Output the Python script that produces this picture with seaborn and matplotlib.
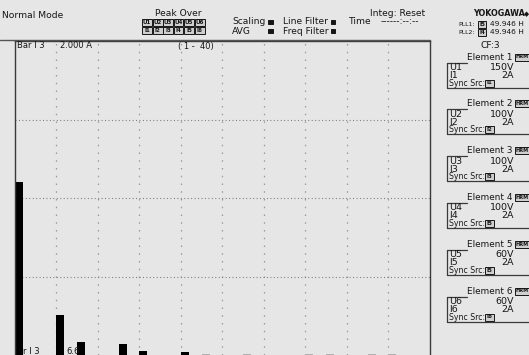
import matplotlib
matplotlib.use("Agg")
import matplotlib.pyplot as plt
import seaborn as sns
import pandas as pd
from matplotlib.patches import Rectangle
from matplotlib.lines import Line2D

# ---------------- data ----------------
orders = list(range(1, 41))
current_A = [1.104, 0, 0, 0, 0.255, 0, 0.085, 0, 0, 0,
             0.070, 0, 0.027, 0, 0, 0, 0.019, 0, 0.008, 0,
             0, 0, 0.008, 0, 0, 0, 0, 0, 0.008, 0,
             0.008, 0, 0, 0, 0.008, 0, 0.008, 0, 0, 0]
small_orders = [19, 23, 29, 31, 35, 37]
full_scale = 2.0
elements = ["Element 1", "Element 2", "Element 3", "Element 4", "Element 5", "Element 6"]
u_names = ["U1", "U2", "U3", "U4", "U5", "U6"]
u_ranges = ["150V", "100V", "100V", "100V", "60V", "60V"]
i_names = ["I1", "I2", "I3", "I4", "I5", "I6"]
i_ranges = ["2A", "2A", "2A", "2A", "2A", "2A"]
sync_src = ["I1", "I2", "I3", "I5", "I5", "I6"]
peak_u = ["U1", "U2", "U3", "U4", "U5", "U6"]
peak_i = ["I1", "I2", "I3", "I4", "I5", "I6"]

df = pd.DataFrame({"order": orders, "current": current_A,
                   "kind": ["small" if o in small_orders else "main" for o in orders]})

W, H = 529, 355
BG = "#e6e6e6"
INK = "#161616"
sns.set_theme(style="white")
plt.rcParams["font.family"] = ["DejaVu Sans"]

fig = plt.figure(figsize=(W / 100, H / 100), dpi=100, facecolor=BG)


def fx(x):
    return x / W


def fy(y):
    return 1 - y / H


def T(x, y, s, size=6.8, ha="left", va="center", weight="normal", color=INK, **kw):
    fig.text(fx(x), fy(y), s, fontsize=size, ha=ha, va=va, weight=weight, color=color, **kw)


def L(x0, y0, x1, y1, lw=1.0, color="#3a3a3a"):
    fig.add_artist(Line2D([fx(x0), fx(x1)], [fy(y0), fy(y1)], lw=lw, color=color,
                          transform=fig.transFigure))


def box(x0, y0, x1, y1, fc="none", ec=INK, lw=0.7):
    fig.add_artist(Rectangle((fx(x0), fy(y1)), fx(x1) - fx(x0), fy(y0) - fy(y1),
                             transform=fig.transFigure, fc=fc, ec=ec, lw=lw))


def tag(xc, y, s, w=10, h=7, size=4.0):
    box(xc - w / 2, y - h / 2, xc + w / 2, y + h / 2, fc="#cfcfcf", ec=INK, lw=0.7)
    T(xc, y, s, size=size, ha="center", weight="bold")


# ---------------- plot area ----------------
x_left, x_right, y_top, y_bot = 14.7, 430, 41, 355
ax = fig.add_axes([fx(x_left), fy(y_bot), fx(x_right) - fx(x_left), fy(y_top) - fy(y_bot)])
ax.set_facecolor(BG)
sns.barplot(data=df, x="order", y="current", hue="kind", dodge=False,
            palette={"main": "#000000", "small": "#b0b0b0"}, width=0.77,
            linewidth=0, legend=False, ax=ax)
ax.set_xlim(-0.385, 39.615)
ax.set_ylim(0, full_scale)
ax.set_xlabel("")
ax.set_ylabel("")
ax.set_xticks([])
ax.set_yticks([])
for k in range(1, 10):
    ax.axvline(4 * k - 0.385, color="#9a9a9a", lw=0.9, linestyle=(0, (1.2, 5.0)), zorder=0)
for v in [0.5, 1.0, 1.5]:
    ax.axhline(v, color="#7a7a7a", lw=0.8, linestyle=(0, (0.9, 2.2)), zorder=0)
for s in ax.spines.values():
    s.set_visible(False)
for s in ["left", "top", "right"]:
    ax.spines[s].set_visible(True)
    ax.spines[s].set_color("#3a3a3a")
    ax.spines[s].set_linewidth(1.0)

T(17, 46, "Bar I 3", size=6.0)
T(60, 46, "2.000 A", size=6.0)
T(178, 46, "( 1 -  40)", size=6.0)
T(23, 351, "r I 3", size=6.0)
T(66, 351, "6.6", size=6.0)

# ---------------- header ----------------
L(0, 40, 430, 40, lw=1.0, color="#555555")
T(2, 15, "Normal Mode", size=6.6)
T(178, 13, "Peak Over", size=6.6, ha="center")
for j, (u, i) in enumerate(zip(peak_u, peak_i)):
    xc = 147 + j * 10.5
    tag(xc, 22.5, u, w=10)
    tag(xc, 30.5, i, w=10)
T(232, 22, "Scaling", size=6.6)
T(232, 31, "AVG", size=6.6)
box(268, 20, 273, 24, fc=INK)
box(268, 29, 273, 33, fc=INK)
T(283, 22, "Line Filter", size=6.6)
T(283, 31, "Freq Filter", size=6.6)
box(331, 20, 335, 24, fc=INK)
box(331, 29, 335, 33, fc=INK)
T(349, 22, "Time", size=6.6)
T(370, 13.5, "Integ: Reset", size=6.6)
T(381, 21.5, "------:--:--", size=6.6)
T(473, 14, "YOKOGAWA", size=5.8, weight="bold")
T(523.5, 14, "◆", size=4.8)
T(458.5, 24.5, "PLL1:", size=4.4)
tag(482, 24, "I5", w=8.5, h=7, size=4.0)
T(490, 24.5, "49.946 H", size=5.4)
T(458.5, 32.5, "PLL2:", size=4.4)
tag(482, 32, "I4", w=8.5, h=7, size=4.0)
T(490, 32.5, "49.946 H", size=5.4)

# ---------------- right panel ----------------
T(490, 46, "CF:3", size=6.6, ha="center")
for n in range(6):
    dy = n * 46.8
    T(467, 57 + dy, elements[n], size=6.4)
    tag(522, 57 + dy, "HRM", w=14, h=7, size=3.6)
    L(447, 62.5 + dy, 467, 62.5 + dy, lw=0.9, color="#3a3a3a")
    L(447, 62.5 + dy, 447, 87.5 + dy, lw=0.9, color="#3a3a3a")
    L(447, 87.5 + dy, 529, 87.5 + dy, lw=0.9, color="#3a3a3a")
    T(449, 67.5 + dy, u_names[n], size=6.8)
    T(514, 67.5 + dy, u_ranges[n], size=6.8, ha="right")
    T(449, 75.5 + dy, i_names[n], size=6.8)
    T(514, 75.5 + dy, i_ranges[n], size=6.8, ha="right")
    T(449, 83 + dy, "Sync Src:", size=5.6)
    tag(489.5, 83 + dy, sync_src[n], w=9, h=7, size=4.0)

fig.savefig("out.png", dpi=100, facecolor=BG)
